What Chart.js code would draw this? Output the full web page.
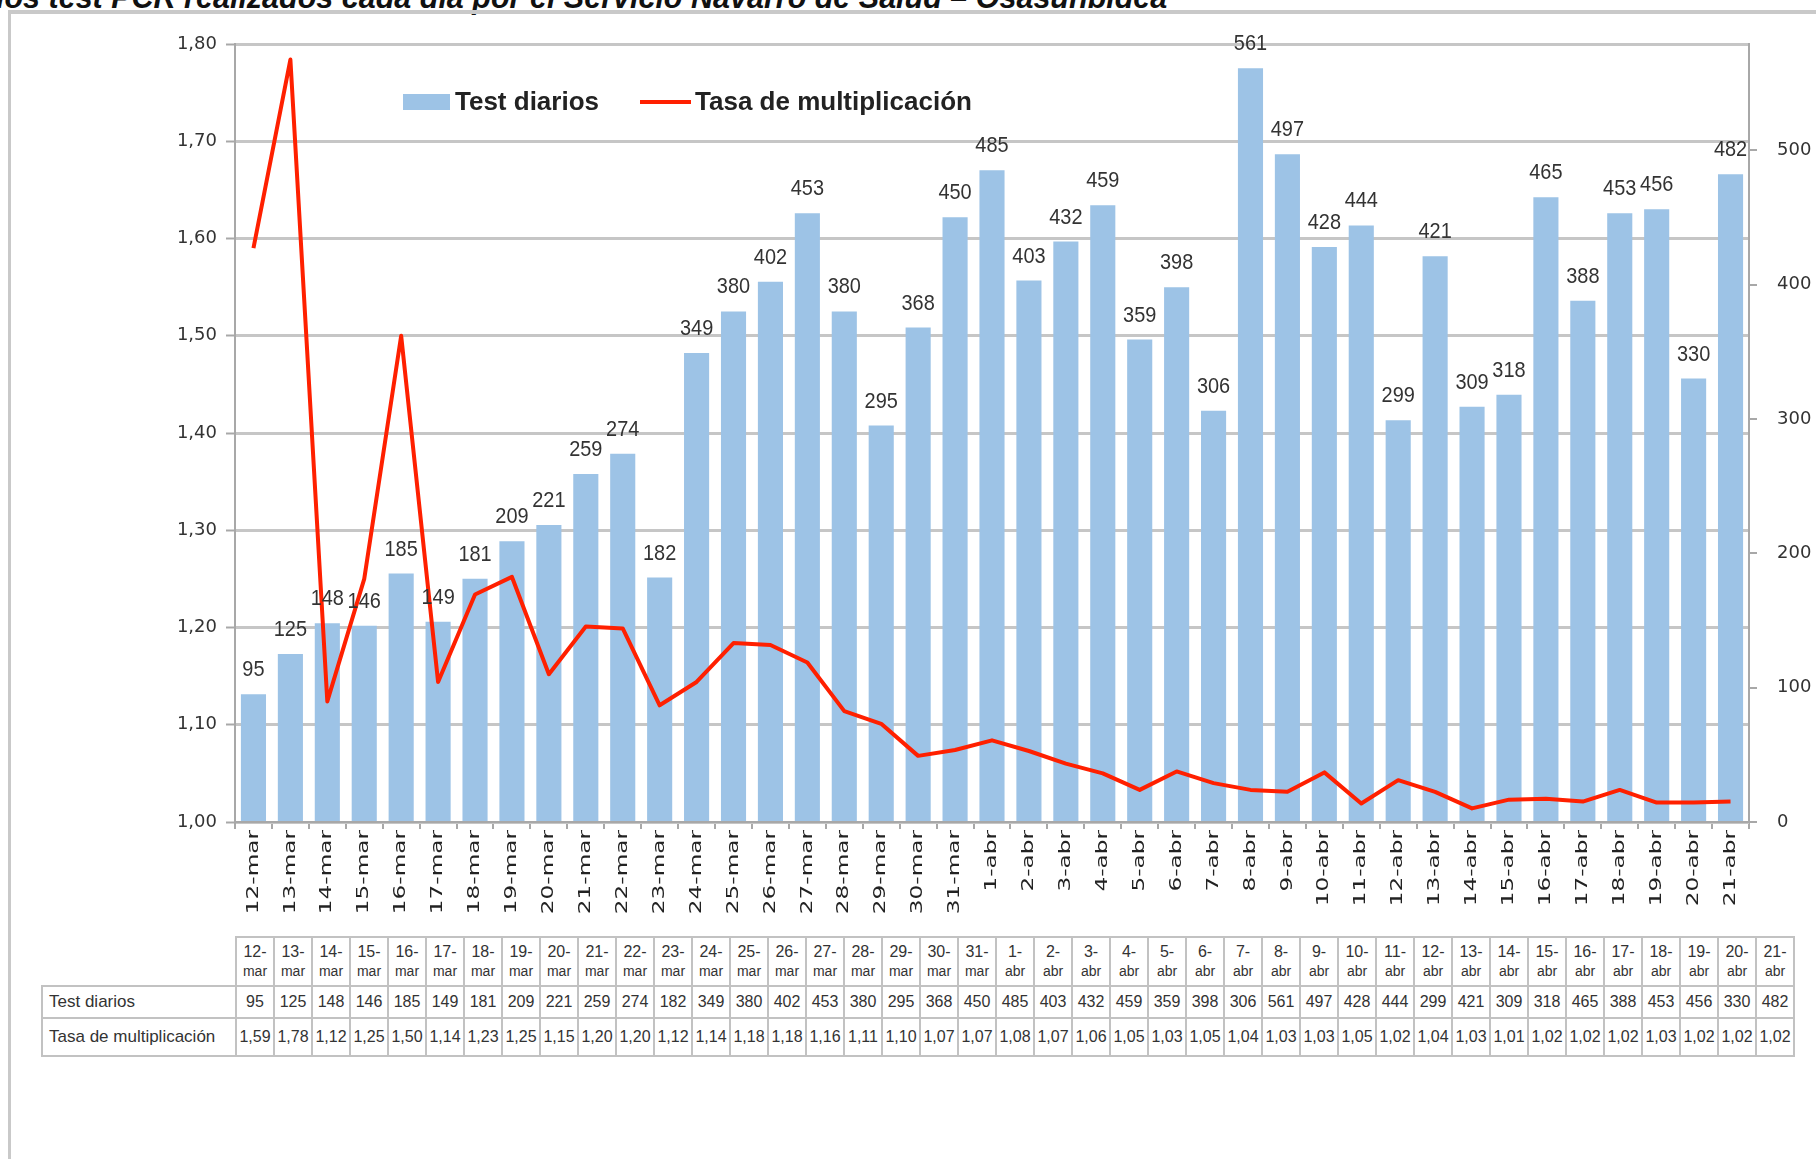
<!DOCTYPE html>
<html>
<head>
<meta charset="utf-8">
<script src="https://cdn.jsdelivr.net/npm/chart.js@4.4.1/dist/chart.umd.min.js"></script>
<style>
  body { margin: 0; width: 1816px; height: 1159px; background: #fff; position: relative; overflow: hidden; font-family: "Liberation Sans", Arial, sans-serif; }
  #title { position: absolute; left: -4px; top: -18px; font: italic bold 30.5px/30px "Liberation Sans", Arial, sans-serif; white-space: nowrap; color: #111; }
  #frame { position: absolute; left: 8px; top: 10px; width: 1900px; height: 1300px; border-left: 3px solid #c9c9c9; border-top: 4px solid #c9c9c9; }
  #wrap { position: absolute; left: 0; top: 0; width: 1816px; height: 930px; }
  #legend { position: absolute; left: 403px; top: 86px; display: flex; align-items: center; font: bold 26px "Liberation Sans", Arial, sans-serif; color: #222; white-space: nowrap; }
  #legend .box { width: 47px; height: 16px; margin-right: 5px; }
  #legend .ln { width: 51px; height: 4px; margin-left: 41px; margin-right: 4px; }
  #tbl { position: absolute; left: 41px; top: 936px; border-collapse: collapse; table-layout: fixed; width: 1754px; color: #333; }
  #tbl td { border: 2px solid #c2c2c2; text-align: center; padding: 0; font-size: 16px; overflow: hidden; white-space: nowrap; }
  #tbl td.lab { text-align: left; padding-left: 6px; font-size: 17px; }
  #tbl tr.head td { height: 47px; line-height: 19px; font-size: 16px; }
  #tbl tr.head td small { font-size: 14px; }
  #tbl tr.r1 td { height: 30px; }
  #tbl tr.r2 td { height: 36px; }
</style>
</head>
<body>
<div id="title">los test PCR realizados cada día por el Servicio Navarro de Salud – Osasunbidea</div>
<div id="frame"></div>
<div id="wrap"><canvas id="chart" width="1816" height="930"></canvas></div>
<div id="legend"></div>
<table id="tbl"></table>
<script>
'use strict';

const fechas = [
  '12-mar', '13-mar', '14-mar', '15-mar', '16-mar', '17-mar', '18-mar', '19-mar', '20-mar', '21-mar',
  '22-mar', '23-mar', '24-mar', '25-mar', '26-mar', '27-mar', '28-mar', '29-mar', '30-mar', '31-mar',
  '1-abr', '2-abr', '3-abr', '4-abr', '5-abr', '6-abr', '7-abr', '8-abr', '9-abr', '10-abr',
  '11-abr', '12-abr', '13-abr', '14-abr', '15-abr', '16-abr', '17-abr', '18-abr', '19-abr', '20-abr', '21-abr'
];
const testDiarios = [
  95, 125, 148, 146, 185, 149, 181, 209, 221, 259,
  274, 182, 349, 380, 402, 453, 380, 295, 368, 450,
  485, 403, 432, 459, 359, 398, 306, 561, 497, 428,
  444, 299, 421, 309, 318, 465, 388, 453, 456, 330, 482
];
const tasaMultiplicacion = [
  1.590, 1.784, 1.124, 1.250, 1.500, 1.144, 1.234, 1.252, 1.152, 1.201,
  1.199, 1.120, 1.144, 1.184, 1.182, 1.164, 1.114, 1.101, 1.068, 1.074,
  1.084, 1.073, 1.060, 1.050, 1.033, 1.052, 1.040, 1.033, 1.031, 1.051,
  1.019, 1.043, 1.031, 1.014, 1.023, 1.024, 1.021, 1.033, 1.020, 1.020, 1.021
];
const nombres = ['Test diarios', 'Tasa de multiplicación'];
const colorBarra = '#9dc3e6';
const colorLinea = '#ff2000';

const coma = (v) => v.toFixed(2).replace('.', ',');

// etiquetas encima de las barras
const barLabels = {
  id: 'barLabels',
  afterDatasetsDraw(chart) {
    const ctx = chart.ctx;
    const meta = chart.getDatasetMeta(1);
    ctx.save();
    ctx.font = '21px "Liberation Sans", Arial, sans-serif';
    ctx.fillStyle = '#333';
    ctx.textAlign = 'center';
    ctx.textBaseline = 'middle';
    meta.data.forEach((bar, i) => {
      ctx.save();
      ctx.translate(bar.x, bar.y - 24);
      ctx.scale(0.95, 1.05);
      ctx.fillText(String(testDiarios[i]), 0, 0);
      ctx.restore();
    });
    ctx.restore();
  }
};

// fechas del eje x, giradas
const xLabels = {
  id: 'xLabels',
  afterDraw(chart) {
    const ctx = chart.ctx;
    const xs = chart.scales.x;
    ctx.save();
    ctx.font = '16px "DejaVu Sans", sans-serif';
    ctx.fillStyle = '#222';
    ctx.textAlign = 'right';
    ctx.textBaseline = 'middle';
    fechas.forEach((f, i) => {
      ctx.save();
      ctx.translate(xs.getPixelForValue(i), xs.top + 8);
      ctx.rotate(-Math.PI / 2);
      ctx.scale(1.45, 1);
      ctx.fillText(f, 0, 0);
      ctx.restore();
    });
    ctx.restore();
  }
};

const ctx = document.getElementById('chart').getContext('2d');

new Chart(ctx, {
  data: {
    labels: fechas,
    datasets: [
      {
        type: 'line',
        label: nombres[1],
        data: tasaMultiplicacion,
        yAxisID: 'y',
        borderColor: colorLinea,
        borderWidth: 4,
        borderJoinStyle: 'round',
        pointRadius: 0,
        tension: 0,
        order: 0,
      },
      {
        type: 'bar',
        label: nombres[0],
        data: testDiarios,
        yAxisID: 'y1',
        backgroundColor: colorBarra,
        categoryPercentage: 1,
        barPercentage: 0.68,
        order: 1,
      },
    ],
  },
  options: {
    responsive: false,
    devicePixelRatio: 1,
    animation: false,
    layout: { padding: { top: 44, left: 0, right: 0, bottom: 0 } },
    plugins: {
      legend: { display: false },
      tooltip: { enabled: false },
    },
    scales: {
      x: {
        offset: true,
        grid: { offset: true, drawOnChartArea: false, tickLength: 7, color: '#a8a8a8', lineWidth: 2 },
        border: { color: '#a8a8a8', width: 2 },
        ticks: { display: false },
        afterFit(s) { s.height = 108; },
      },
      y: {
        position: 'left',
        min: 1,
        max: 1.8,
        ticks: {
          stepSize: 0.1,
          callback: (v) => coma(v),
          font: { family: 'DejaVu Sans', size: 18 },
          color: '#333',
          padding: 9,
        },
        grid: { color: '#c6c6c6', lineWidth: 3, tickLength: 9, tickColor: '#a8a8a8', tickWidth: 2 },
        border: { color: '#a8a8a8', width: 2 },
        afterFit(s) { s.width = 235; },
      },
      y1: {
        position: 'right',
        min: 0,
        max: 579,
        ticks: {
          stepSize: 100,
          font: { family: 'DejaVu Sans', size: 18 },
          color: '#333',
          padding: 20,
        },
        afterBuildTicks(s) { s.ticks = s.ticks.filter((t) => t.value % 100 === 0); },
        grid: { drawOnChartArea: false, tickLength: 8, color: '#a8a8a8', lineWidth: 2 },
        border: { color: '#a8a8a8', width: 2 },
        afterFit(s) { s.width = 67; },
      },
    },
  },
  plugins: [barLabels, xLabels],
});

// leyenda
const legend = document.getElementById('legend');
legend.innerHTML =
  '<span class="box" style="background:' + colorBarra + '"></span><span>' + nombres[0] + '</span>' +
  '<span class="ln" style="background:' + colorLinea + '"></span><span>' + nombres[1] + '</span>';

// tabla de datos
const tbl = document.getElementById('tbl');
let html = '<colgroup><col style="width:194px">' + fechas.map(() => '<col>').join('') + '</colgroup>';
html += '<tr class="head"><td style="border:none"></td>' +
  fechas.map((f) => { const p = f.split('-'); return '<td>' + p[0] + '-<br><small>' + p[1] + '</small></td>'; }).join('') + '</tr>';
html += '<tr class="r1"><td class="lab">' + nombres[0] + '</td>' + testDiarios.map((v) => '<td>' + v + '</td>').join('') + '</tr>';
html += '<tr class="r2"><td class="lab">' + nombres[1] + '</td>' + tasaMultiplicacion.map((v) => '<td>' + coma(v) + '</td>').join('') + '</tr>';
tbl.innerHTML = html;
</script>
</body>
</html>
